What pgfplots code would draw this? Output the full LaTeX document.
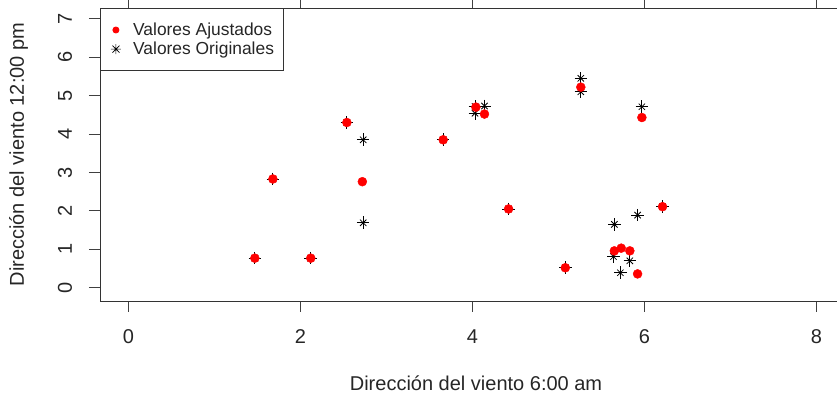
\documentclass[border=0pt]{standalone}
\usepackage{pgfplots}
\pgfplotsset{compat=1.18}
\usepackage{fontspec}
\setmainfont{Liberation Sans}
\begin{document}
\begin{tikzpicture}
\begin{axis}[
  scale only axis,
  width=744pt, height=293pt,
  xmin=-0.33, xmax=8.32, ymin=-0.345, ymax=7.28,
  xtick={0,2,4,6,8}, ytick={0,1,2,3,4,5,6,7},
  tick align=outside,
  major tick length=11pt,
  tick style={black!75, line width=0.9pt},
  axis line style={black!80, line width=0.9pt},
  /pgf/number format/assume math mode=true,
  tick label style={font=\fontsize{20}{24}\selectfont, text=black!85},
  xticklabel style={anchor=center, yshift=-25pt},
  yticklabel style={xshift=-24pt, rotate=90, anchor=center},
  xlabel={Dirección del viento 6:00 am},
  ylabel={Dirección del viento 12:00 pm},
  label style={font=\fontsize{20}{24}\selectfont, text=black!85},
  xlabel style={at={(axis description cs:0.5054,-0.2799)}, anchor=center},
  ylabel style={at={(axis description cs:-0.1095,0.5)}, anchor=center},
  legend style={at={(rel axis cs:0,1)}, anchor=north west, draw=black!80, line width=0.9pt,
    font=\fontsize{17.4}{21.6}\selectfont, text=black!85, inner xsep=4pt, inner ysep=12pt,
    row sep=0pt, nodes={inner xsep=5.8pt, inner ysep=2.5pt}, cells={anchor=west}},
  legend cell align=left,
]
\coordinate (bl) at (rel axis cs:0,0);
% Valores Originales (pch 8 = + and x)
\addplot[only marks, mark=+, mark size=6.3pt, black, mark options={line width=0.8pt}, forget plot] coordinates {
(1.47,0.77) (1.68,2.83) (2.12,0.77) (2.54,4.30) (2.73,3.85) (2.73,1.69)
(3.66,3.85) (4.03,4.72) (4.03,4.54) (4.14,4.73) (4.42,2.05) (5.08,0.52)
(5.26,5.45) (5.26,5.10) (5.64,0.81) (5.65,1.65) (5.72,0.39) (5.83,0.70)
(5.92,1.89) (5.97,4.71) (6.21,2.11)};
\addplot[only marks, mark=x, mark size=4.5pt, black, mark options={line width=0.8pt}, forget plot] coordinates {
(1.47,0.77) (1.68,2.83) (2.12,0.77) (2.54,4.30) (2.73,3.85) (2.73,1.69)
(3.66,3.85) (4.03,4.72) (4.03,4.54) (4.14,4.73) (4.42,2.05) (5.08,0.52)
(5.26,5.45) (5.26,5.10) (5.64,0.81) (5.65,1.65) (5.72,0.39) (5.83,0.70)
(5.92,1.89) (5.97,4.71) (6.21,2.11)};
% Valores Ajustados
\addplot[only marks, mark=*, mark size=4.5pt, red, mark options={fill=red, draw=red},
  legend image code/.code={\path (0pt,0) (22pt,0); \fill[red] (11pt,0) circle (3pt);}] coordinates {
(1.47,0.77) (1.68,2.83) (2.12,0.77) (2.54,4.30) (2.72,2.76) (3.66,3.85)
(4.04,4.70) (4.14,4.52) (4.42,2.05) (5.08,0.52) (5.26,5.22) (5.65,0.96)
(5.73,1.03) (5.83,0.96) (5.92,0.36) (5.97,4.43) (6.21,2.11)};
\addlegendentry{Valores Ajustados}
\addlegendimage{legend image code/.code={
  \path (0pt,0) (22pt,0);
  \draw[black, line width=0.7pt] (11pt,0) +(-5pt,0) -- +(5pt,0) +(0,-5pt) -- +(0,5pt)
    +(-3.5pt,-3.5pt) -- +(3.5pt,3.5pt) +(-3.5pt,3.5pt) -- +(3.5pt,-3.5pt);}}
\addlegendentry{Valores Originales}
\end{axis}
\pgfresetboundingbox
\path ([shift={(-100pt,-94pt)}]bl) rectangle ([shift={(737pt,301pt)}]bl);
\end{tikzpicture}
\end{document}
